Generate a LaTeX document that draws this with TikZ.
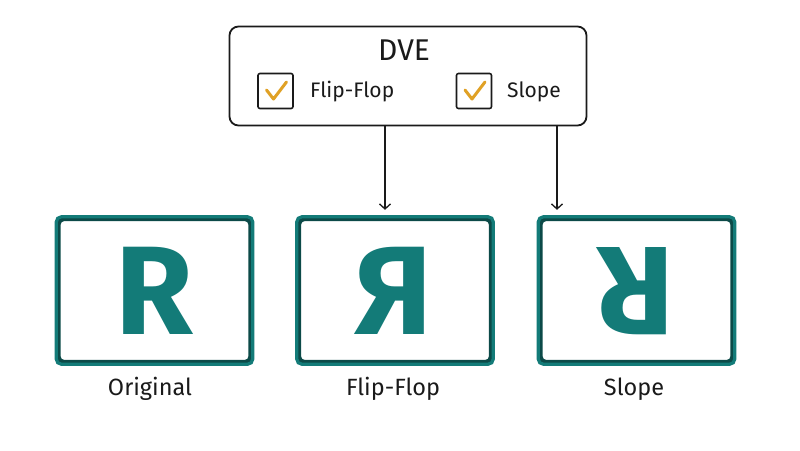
\documentclass[tikz,border=0pt]{standalone}
\usepackage{fontspec}
\setmainfont{Fira Sans}
\newfontfamily\handfont{Fira Sans}
\usetikzlibrary{arrows.meta}
\definecolor{tealc}{HTML}{137B78}
\definecolor{tealdark}{HTML}{0C4A48}
\definecolor{checkc}{HTML}{E0A125}
\definecolor{inkc}{HTML}{1A1A1A}
\tikzset{
  panelbox/.style={draw=tealdark, line width=4.4pt, rounded corners=5pt, minimum width=192pt, minimum height=143pt},
  panelinner/.style={draw=tealc, line width=3.2pt, rounded corners=5pt},
  dvebox/.style={draw=inkc, line width=1.8pt, rounded corners=9pt, minimum width=357pt, minimum height=99pt},
  chk/.style={draw=inkc, line width=1.6pt, rounded corners=2pt, minimum width=35pt, minimum height=35pt},
  chkmark/.style={draw=checkc, line width=3pt, line cap=round, line join=round},
  lbl/.style={font=\handfont\fontsize{23.5}{26}\selectfont, text=inkc, inner sep=0pt},
  toplbl/.style={font=\handfont\fontsize{21}{24}\selectfont, text=inkc, inner sep=0pt},
  bigr/.style={font=\bfseries\fontsize{126}{130}\selectfont, text=tealc, inner sep=0pt},
  arr/.style={draw=inkc, line width=1.2pt, -{Straight Barb[length=5pt,width=11pt,line width=1.3pt]}}
}
\begin{document}
\begin{tikzpicture}[x=1pt,y=-1pt]
\useasboundingbox (0,0) rectangle (800,450);
\fill[white] (0,0) rectangle (800,450);
% DVE box
\node[dvebox] (dve) at (408,76) {};
\node[toplbl, font=\handfont\fontsize{30}{32}\selectfont] (dvet) at (404,50) {DVE};
\node[chk] (cb1) at (275.5,91) {};
\node[chk] (cb2) at (474,91) {};
\draw[chkmark] ([shift={(-9,-1)}]cb1.center) -- ([shift={(-2,8)}]cb1.center) -- ([shift={(11,-9)}]cb1.center);
\draw[chkmark] ([shift={(-9,-1)}]cb2.center) -- ([shift={(-2,8)}]cb2.center) -- ([shift={(11,-9)}]cb2.center);
\node[toplbl, anchor=west] (t1) at (310,92) {Flip-Flop};
\node[toplbl, anchor=west] (t2) at (507,92) {Slope};
% panels
\node[panelbox] (p1) at (154.5,290.5) {};
\node[panelbox] (p2) at (395,290.5) {};
\node[panelbox] (p3) at (636.5,290.5) {};
\draw[panelinner] (p1.north west) rectangle (p1.south east);
\draw[panelinner] (p2.north west) rectangle (p2.south east);
\draw[panelinner] (p3.north west) rectangle (p3.south east);
\node[bigr] (r1) at (154,291) {R};
\node[bigr, xscale=-1] (r2) at (394,291) {R};
\node[bigr, rotate=180] (r3) at (636,291) {R};
% labels
\node[lbl] (l1) at (150,389) {Original};
\node[lbl] (l2) at (393,389) {Flip-Flop};
\node[lbl] (l3) at (634,389) {Slope};
% arrows
\coordinate (a1) at (385,0);
\coordinate (a2) at (557,0);
\draw[arr, shorten >=7pt] (dve.south -| a1) -- (p2.north -| a1);
\draw[arr, shorten >=7pt] (dve.south -| a2) -- (p3.north -| a2);
\end{tikzpicture}
\end{document}
